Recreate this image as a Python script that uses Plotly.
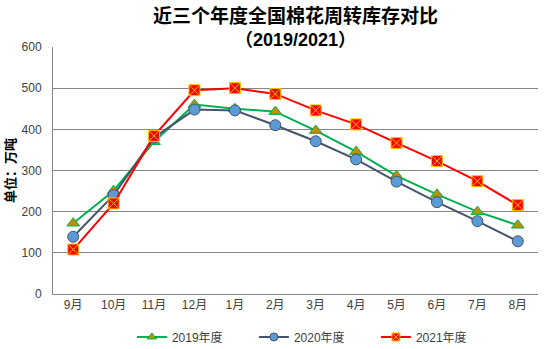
import plotly.graph_objects as go

months = ["9月", "10月", "11月", "12月", "1月", "2月", "3月", "4月", "5月", "6月", "7月", "8月"]
s2019 = [172, 251, 370, 460, 450, 443, 397, 346, 287, 242, 200, 167]
s2020 = [139, 240, 380, 448, 446, 410, 371, 327, 273, 223, 177, 128]
s2021 = [108, 220, 384, 495, 500, 486, 446, 412, 367, 323, 274, 216]
names = ["2019年度", "2020年度", "2021年度"]
yticks = [0, 100, 200, 300, 400, 500, 600]

FONT = "Liberation Sans, Arial, Noto Sans CJK SC, sans-serif"
CJK = "Noto Sans CJK SC, sans-serif"

styles = [
    dict(line=dict(color="#00B050", width=2), symbol="triangle-up", fill="#BF8F00", edge="#00B050"),
    dict(line=dict(color="#44546A", width=2), symbol="circle", fill="#5B9BD5", edge="#44546A"),
    dict(line=dict(color="#FF0000", width=2), symbol="square-x", fill="#FF0000", edge="#FFC000"),
]

fig = go.Figure()
for name, ys, st in zip(names, [s2019, s2020, s2021], styles):
    fig.add_trace(go.Scatter(
        x=months, y=ys, name=name, mode="lines+markers", showlegend=False,
        line=st["line"],
        marker=dict(symbol=st["symbol"], size=11, color=st["fill"],
                    line=dict(color=st["edge"], width=1)),
    ))
for name, st in zip(names, styles):
    fig.add_trace(go.Scatter(
        x=[None], y=[None], name=name, mode="lines+markers", showlegend=True,
        line=st["line"],
        marker=dict(symbol=st["symbol"], size=8, color=st["fill"],
                    line=dict(color=st["edge"], width=1)),
    ))

fig.update_layout(
    width=558, height=349,
    margin=dict(l=53, r=20, t=47, b=55, autoexpand=False),
    paper_bgcolor="white", plot_bgcolor="white",
    font=dict(family=FONT, size=12, color="#404040"),
    title=dict(
        text="<b><span style='font-family:Noto Sans CJK SC;font-size:19px'>近三个年度全国棉花周转库存对比</span></b><br><b>（2019/2021）</b>",
        x=0.5, xref="paper", xanchor="center",
        y=1 - 23 / 349, yref="container", yanchor="middle",
        font=dict(family=FONT, size=18, color="#000000"),
    ),
    legend=dict(
        orientation="h", x=0.54, xanchor="center", y=-0.174, yanchor="middle",
        font=dict(family=FONT, size=12, color="#404040"),
        itemwidth=30, tracegroupgap=0,
        entrywidth=77, entrywidthmode="pixels",
    ),
    showlegend=True,
)
fig.update_xaxes(
    type="category", categoryarray=months, categoryorder="array", range=[-0.5, 11.5],
    showgrid=False, showline=True, linecolor="#868686", linewidth=1,
    ticks="", tickfont=dict(family=FONT, size=12, color="#404040"),
    fixedrange=True,
)
fig.update_yaxes(
    range=[0, 600], tickvals=yticks, ticktext=[str(v) for v in yticks],
    showgrid=True, gridcolor="#868686", gridwidth=1,
    showline=True, linecolor="#868686", linewidth=1,
    zeroline=False, ticks="", ticklabelstandoff=8,
    tickfont=dict(family=FONT, size=12, color="#404040"),
    title=dict(text="<b>单位：万吨</b>", font=dict(family=CJK, size=13, color="#000000"), standoff=6),
    fixedrange=True,
)

fig.write_html("out.html")
